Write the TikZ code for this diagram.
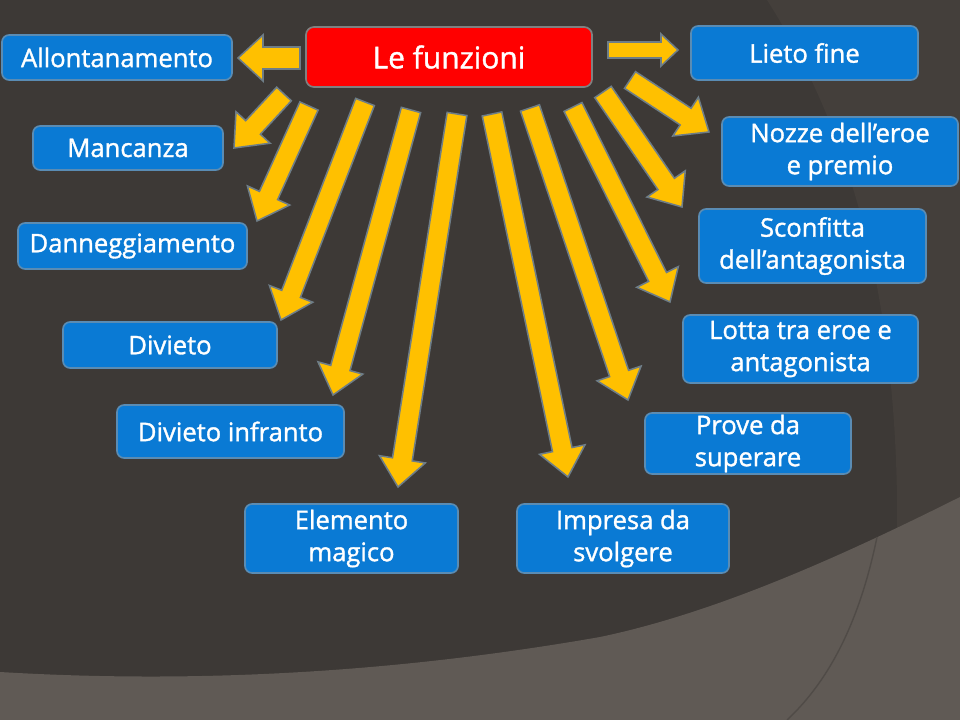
\documentclass[tikz,border=0pt]{standalone}
\usepackage{fontspec}
\setmainfont{Open Sans}[RawFeature={embolden=1.3}]
\usetikzlibrary{calc}

\definecolor{sfondo}{RGB}{61,57,54}
\definecolor{sfondodestra}{RGB}{68,63,59}
\definecolor{sfondobasso}{RGB}{96,90,85}
\definecolor{lineabasso}{RGB}{80,75,71}
\definecolor{blu}{RGB}{10,122,212}
\definecolor{bordoblu}{RGB}{90,140,180}
\definecolor{rosso}{RGB}{255,0,0}
\definecolor{bordorosso}{RGB}{128,128,128}
\definecolor{giallo}{RGB}{255,192,0}
\definecolor{bordofreccia}{RGB}{110,125,135}

% freccia piena: coda, punta, mezza asta, mezza testa, lunghezza testa
\newcommand{\freccia}[5]{%
	\coordinate (fr-b) at ($(#2)!#5!(#1)$);
	\filldraw[freccia] ($(#1)!#3!90:(#2)$) -- ($(fr-b)!#3!90:(#2)$) -- ($(fr-b)!#4!90:(#2)$) -- (#2)
	-- ($(fr-b)!#4!-90:(#2)$) -- ($(fr-b)!#3!-90:(#2)$) -- ($(#1)!#3!-90:(#2)$) -- cycle;
}

\begin{document}
\begin{tikzpicture}[x=0.025cm, y=-0.025cm]
		\tikzstyle{every node}=[font=\fontsize{18.2pt}{22.8pt}\selectfont, text=white]
		\tikzstyle{funzione}=[draw=bordoblu, fill=blu, line width=1.2pt, rounded corners=0.18cm, align=center, inner sep=0pt]
		\tikzstyle{titolo}=[draw=bordorosso, fill=rosso, line width=1.2pt, rounded corners=0.2cm, inner sep=0pt, font=\fontsize{21.3pt}{26pt}\selectfont]
		\tikzstyle{freccia}=[fill=giallo, draw=bordofreccia, line width=1.1pt, line join=miter]
		
		% sfondo
		\useasboundingbox (0,0) rectangle (960,720);
		\fill[sfondo] (0,0) rectangle (960,720);
		\fill[sfondodestra] (767,0) .. controls (850,130) and (900,300) .. (897,540) -- (960,497) -- (960,0) -- cycle;
		\fill[sfondobasso] (0,672) .. controls (200,684) and (400,672) .. (600,637) .. controls (720,612) and (850,552) .. (960,497) -- (960,720) -- (0,720) -- cycle;
		\draw[lineabasso, line width=1pt] (877,537) .. controls (860,620) and (830,680) .. (787,720);
		
		% riquadri
		\node[titolo, minimum width=7.15cm, minimum height=1.5cm] (funzioni) at (449,57) {Le funzioni};
		
		\node[funzione, minimum width=5.75cm, minimum height=1.125cm] (allont) at (117,57.5) {Allontanamento};
		\node[funzione, minimum width=4.75cm, minimum height=1.1cm] (manc) at (128,148) {Mancanza};
		\node[funzione, minimum width=5.725cm, minimum height=1.15cm] (danne) at (132.5,246) {Danneggiamento};
		\node[funzione, minimum width=5.35cm, minimum height=1.15cm] (divieto) at (170,345) {Divieto};
		\node[funzione, minimum width=5.675cm, minimum height=1.325cm] (divinfr) at (230.5,431.5) {Divieto infranto};
		\node[funzione, minimum width=5.325cm, minimum height=1.725cm] (elemento) at (351.5,538.5) {Elemento\\magico};
		\node[funzione, minimum width=5.3cm, minimum height=1.725cm] (impresa) at (623,538.5) {Impresa da\\svolgere};
		\node[funzione, minimum width=5.15cm, minimum height=1.525cm] (prove) at (748,443.5) {Prove da\\superare};
		\node[funzione, minimum width=5.875cm, minimum height=1.7cm] (lotta) at (800.5,349) {Lotta tra eroe e\\antagonista};
		\node[funzione, minimum width=5.675cm, minimum height=1.85cm] (sconf) at (812.5,246) {Sconfitta\\dell’antagonista};
		\node[funzione, minimum width=5.9cm, minimum height=1.725cm] (nozze) at (840,151.5) {Nozze dell’eroe\\e premio};
		\node[funzione, minimum width=5.675cm, minimum height=1.35cm] (lieto) at (804.5,53) {Lieto fine};
		
		% code e punte delle frecce
		\coordinate (da-allont) at (300,58);
		\coordinate (a-allont) at (238,58);
		\coordinate (da-lieto) at (608,50);
		\coordinate (a-lieto) at (678,50);
		\coordinate (da-manc) at (284,94);
		\coordinate (a-manc) at (234,148);
		\coordinate (da-danne) at (309,106);
		\coordinate (a-danne) at (257,221);
		\coordinate (da-divieto) at (365,102);
		\coordinate (a-divieto) at (281,320);
		\coordinate (da-divinfr) at (411,110);
		\coordinate (a-divinfr) at (333,395);
		\coordinate (da-elemento) at (457,114);
		\coordinate (a-elemento) at (398,487);
		\coordinate (da-impresa) at (492,114);
		\coordinate (a-impresa) at (568,477);
		\coordinate (da-prove) at (530,108);
		\coordinate (a-prove) at (628,400);
		\coordinate (da-lotta) at (573,107);
		\coordinate (a-lotta) at (670,302);
		\coordinate (da-sconf) at (603,92);
		\coordinate (a-sconf) at (682,207);
		\coordinate (da-nozze) at (630,80);
		\coordinate (a-nozze) at (709,132);
		
		% frecce
		\freccia{da-allont}{a-allont}{0.275cm}{0.575cm}{0.625cm}
		\freccia{da-lieto}{a-lieto}{0.2cm}{0.4cm}{0.425cm}
		\freccia{da-manc}{a-manc}{0.25cm}{0.58cm}{0.7cm}
		\freccia{da-danne}{a-danne}{0.25cm}{0.58cm}{0.7cm}
		\freccia{da-divieto}{a-divieto}{0.25cm}{0.58cm}{0.7cm}
		\freccia{da-divinfr}{a-divinfr}{0.25cm}{0.58cm}{0.7cm}
		\freccia{da-elemento}{a-elemento}{0.25cm}{0.58cm}{0.7cm}
		\freccia{da-impresa}{a-impresa}{0.25cm}{0.58cm}{0.7cm}
		\freccia{da-prove}{a-prove}{0.25cm}{0.58cm}{0.7cm}
		\freccia{da-lotta}{a-lotta}{0.25cm}{0.58cm}{0.7cm}
		\freccia{da-sconf}{a-sconf}{0.25cm}{0.58cm}{0.7cm}
		\freccia{da-nozze}{a-nozze}{0.25cm}{0.58cm}{0.7cm}
		
\end{tikzpicture}
\end{document}
